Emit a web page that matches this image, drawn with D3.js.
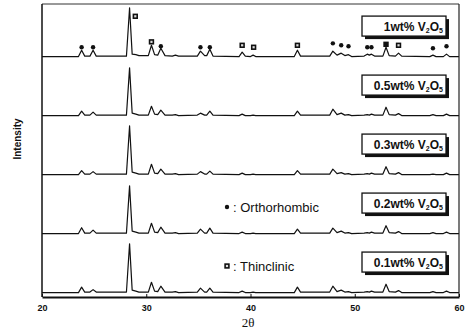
<!DOCTYPE html>
<html><head><meta charset="utf-8">
<script src="https://cdn.jsdelivr.net/npm/d3@7"></script>
<style>body{margin:0;background:#fff}svg{display:block}</style>
</head><body>
<svg id="c" width="468" height="332"></svg>
<script>
// 2θ sampling positions (degrees) of the traced patterns
const twoTheta = [20,23.5,23.8,24.1,24.6,24.9,25.2,28.1,28.4,28.65,29.0,29.3,30.2,30.5,30.8,31.1,31.4,31.8,32.5,32.8,33.1,34.9,35.2,35.6,35.8,36.1,36.4,38.9,39.2,39.5,40.0,40.25,40.5,44.2,44.5,44.8,47.6,47.9,48.3,48.7,49.05,49.4,49.7,50.9,51.2,51.4,51.6,51.9,52.7,53.0,53.3,53.9,54.2,54.5,57.2,57.5,57.8,58.5,58.8,59.1,60];
// relative intensities (main peak = 100)
const int1wt  = [1,1,14,2,2,14,2,2,100,6,5,3,3,24,5,4,18,3,2,4,2,2,12,3,3,16,2,1,10,2,1,4,1,1,14,2,2,12,4,8,3,5,1,2,6,4,6,2,2,20,3,2,8,2,1,4,1,1,6,1,1];
const int05wt = [1,1,10,2,2,8,2,2,98,6,4,2,2,20,4,3,12,2,2,3,1,2,6,2,2,10,2,1,4,1,1,2,1,1,10,2,2,14,3,6,2,3,1,2,3,2,4,2,2,18,3,2,5,1,1,3,1,1,4,1,1];
const int03wt = [1,1,9,2,2,7,2,2,100,6,4,2,2,22,4,3,12,2,2,3,1,2,7,2,2,8,2,1,4,1,1,2,1,1,9,2,2,12,3,5,2,3,1,2,3,2,4,2,2,17,3,2,5,1,1,2,1,1,4,1,1];
const int02wt = [1,1,13,2,2,8,2,2,98,6,4,2,2,22,4,3,14,2,2,3,1,2,10,2,2,12,2,1,4,1,1,2,1,1,10,2,2,12,3,6,2,3,1,2,3,2,4,2,2,17,3,2,5,1,1,3,1,1,4,1,1];
const int01wt = [1,1,12,2,2,7,2,2,100,6,4,2,2,22,4,3,14,2,2,3,1,2,10,2,2,10,2,1,4,1,1,2,1,1,12,2,2,14,3,6,2,3,1,2,3,2,4,2,2,18,3,2,5,1,1,3,1,1,4,1,1];
const sampleLoads = ["1wt%","0.5wt%","0.3wt%","0.2wt%","0.1wt%"];
const sampleOffsets = [480,360,240,120,0];
// phase markers above the 1wt% pattern
const markerTheta = [23.8,24.9,28.95,30.5,31.4,35.2,36.1,39.2,40.3,44.5,47.9,48.7,49.4,51.2,51.6,53.0,54.2,57.5,58.8];
const markerLevel = [20,20,83,31,22,20,20,24,20,24,28,24,22,20,20,26,24,18,22];
const markerType  = ["o","o","s","s","o","o","o","s","s","s","o","o","o","o","o","f","s","o","o"];
const legendLabels = [": Orthorhombic", ": Thinclinic"];
const xTicks = [20,30,40,50,60];

const series = [int1wt,int05wt,int03wt,int02wt,int01wt];
const svg = d3.select("#c");
const L=42,R=459,T=4,B=297;
const x = d3.scaleLinear().domain([20,60]).range([L,R]);
const y = d3.scaleLinear().domain([-8,588]).range([B,T]);

const line = d3.line().x(d=>x(d[0])).y(d=>y(d[1]));
series.forEach((s,i)=>{
  const pts = twoTheta.map((t,j)=>[t, s[j]+sampleOffsets[i]]);
  svg.append("path").attr("d",line(pts)).attr("fill","none")
    .attr("stroke","#111").attr("stroke-width",1.2).attr("stroke-linejoin","round");
});

// frame
svg.append("line").attr("x1",L).attr("x2",R).attr("y1",T).attr("y2",T).attr("stroke","#333").attr("stroke-width",1);
svg.append("line").attr("x1",R).attr("x2",R).attr("y1",T).attr("y2",B).attr("stroke","#222").attr("stroke-width",1.2);
svg.append("line").attr("x1",L).attr("x2",L).attr("y1",T).attr("y2",B).attr("stroke","#111").attr("stroke-width",1.5);

const ax = svg.append("g").attr("transform",`translate(0,${B})`)
  .call(d3.axisBottom(x).tickValues(xTicks).tickSizeInner(-3).tickSizeOuter(0).tickPadding(8).tickFormat(d3.format("d")));
ax.select(".domain").attr("stroke","#111").attr("stroke-width",2);
ax.selectAll(".tick line").attr("stroke","#111");
ax.selectAll("text").attr("font-family","Liberation Sans, Arial, sans-serif").attr("font-size",9).attr("font-weight","bold").attr("fill","#111");

// markers
function drawMarker(g,type,cx,cy){
  if(type==="o") g.append("circle").attr("cx",cx).attr("cy",cy).attr("r",2.2).attr("fill","#111");
  else g.append("rect").attr("x",cx-1.9).attr("y",cy-1.9).attr("width",3.8).attr("height",3.8)
     .attr("fill",type==="f"?"#111":"#ddd").attr("stroke","#111").attr("stroke-width",1.6);
}
const mg = svg.append("g");
markerTheta.forEach((t,i)=>drawMarker(mg,markerType[i],x(t),y(sampleOffsets[0]+markerLevel[i])));

// sample boxes
const font="Liberation Sans, Arial, sans-serif";
sampleLoads.forEach((lab,i)=>{
  const top = y(sampleOffsets[i]) - 41;
  const g = svg.append("g");
  g.append("rect").attr("x",365).attr("y",top+3).attr("width",84).attr("height",20).attr("fill","#111");
  g.append("rect").attr("x",362).attr("y",top).attr("width",84).attr("height",20).attr("fill","#fff").attr("stroke","#111").attr("stroke-width",1.3);
  const tx = g.append("text").attr("x",443).attr("y",top+14.5).attr("text-anchor","end")
    .attr("font-family",font).attr("font-size",12).attr("font-weight","bold").attr("fill","#111");
  tx.append("tspan").text(lab+" V");
  tx.append("tspan").attr("font-size",7).attr("dy",2).text("2");
  tx.append("tspan").attr("dy",-2).text("O");
  tx.append("tspan").attr("font-size",7).attr("dy",2).text("5");
});

// legend
const lg = svg.append("g");
drawMarker(lg,"o",227,207);
drawMarker(lg,"s",227,266);
legendLabels.forEach((t,i)=>{
  lg.append("text").attr("x",233).attr("y",[211.5,270.5][i]).attr("font-family",font).attr("font-size",13).attr("fill","#111").text(t);
});

// axis titles
svg.append("text").attr("transform","translate(21,139) rotate(-90)").attr("text-anchor","middle")
  .attr("font-family",font).attr("font-size",10).attr("font-weight","bold").attr("fill","#111").text("Intensity");
svg.append("text").attr("x",248).attr("y",327).attr("text-anchor","middle")
  .attr("font-family","Liberation Serif, Times New Roman, serif").attr("font-size",13).attr("fill","#111").text("2θ");
</script>
</body></html>
